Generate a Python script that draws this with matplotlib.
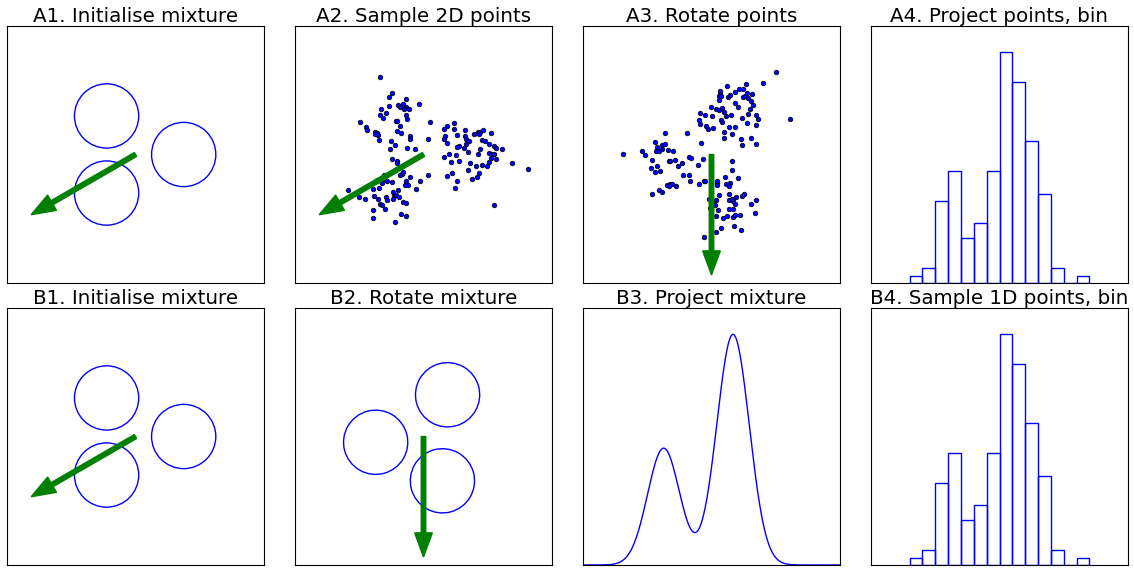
import numpy as np
import matplotlib
matplotlib.use("Agg")
import matplotlib.pyplot as plt
from matplotlib.patches import Circle
from matplotlib.transforms import Affine2D

# mixture of three circles (centres, radius)
circ_x = [-0.9, -0.9, 1.5]
circ_y = [1.2, -1.2, 0.0]
circ_r = 1.0

# projection arrow (degrees) and rotation applied to line it up with -y
arrow_angle = 210.0
rot_angle = 60.0
arrow_len = 3.0

# sampled 2D points (panel A2)
pts_x = [-1.36, -0.99, -1.06, -0.56, -0.63, -0.78, -0.73, -0.53, -0.45, -0.61,
         -1.32, -1.07, -0.15, -1.17, -1.35, -1.25, -0.56, -0.52, -1.99, -1.79,
         -1.77, -0.85, -0.82, -0.72, -1.52, -1.45, -1.42, -1.51, -1.40, -0.82,
         -0.70, -0.43, -0.42, -1.00, -0.89, -1.05, -0.50, -0.26, 0.15, 0.20,
         -0.98, -0.84, -0.81, -0.68, -0.72, -0.63, -1.24, -1.45, -1.46, -1.25,
         -1.15, -0.98, -0.41, -0.10, 0.14, -0.56, -0.48, -0.57, -2.34, -1.57,
         -1.40, -1.29, -0.79, -0.95, -0.23, -2.02, -1.83, -1.53, -1.42, -1.18,
         -1.14, -1.35, -1.28, -0.92, -0.96, -0.87, -0.75, -1.58, -1.20, -0.63,
         -0.55, -0.71, -0.54, -1.58, -0.89,
         0.94, 0.73, 0.64, 0.95, 1.28, 0.68, 0.63, 1.04, 1.29, 1.31,
         1.42, 1.57, 1.69, 1.77, 1.86, 1.74, 2.09, 1.81, 1.91, 0.73,
         1.09, 1.04, 1.33, 1.27, 1.38, 1.76, 1.70, 2.05, 2.21, 2.26,
         2.43, 2.04, 2.09, 2.21, 2.26, 0.80, 1.02, 0.63, 0.86, 1.11,
         1.44, 1.64, 1.83, 1.99, 2.05, 2.10, 0.88, 0.72, 1.05, 0.99,
         1.40, 1.50, 1.67, 1.74, 2.74, 3.24, 2.18]
pts_y = [2.41, 1.91, 1.78, 1.72, 1.58, 1.54, 1.48, 1.48, 1.41, 1.41,
         1.43, 1.51, 1.57, 1.29, 1.24, 1.14, 1.23, 1.09, 1.00, 0.86,
         0.76, 1.05, 1.03, 0.90, 0.71, 0.66, 0.60, 0.64, 0.46, 0.73,
         0.66, 0.57, 0.48, 0.43, 0.29, 0.17, 0.21, 0.17, 0.48, 1.00,
         -0.13, -0.20, -0.25, -0.60, -0.63, -0.56, -0.63, -0.80, -0.84, -0.77,
         -0.81, -0.85, -0.71, -0.81, -0.64, -0.84, -0.96, -0.96, -1.09, -1.08,
         -1.04, -0.88, -1.10, -1.16, -1.07, -1.33, -1.39, -1.30, -1.39, -1.32,
         -1.43, -1.55, -1.57, -1.29, -1.40, -1.25, -1.33, -1.73, -1.71, -1.47,
         -1.50, -1.84, -1.91, -1.98, -2.09,
         0.97, 0.88, 0.79, 0.80, 0.77, 0.59, 0.48, 0.60, 0.58, 0.49,
         0.43, 0.65, 0.69, 0.71, 0.76, 0.65, 0.66, 0.45, 0.42, 0.36,
         0.27, 0.24, 0.32, 0.20, 0.09, 0.17, 0.02, 0.34, 0.27, 0.19,
         0.17, 0.06, 0.01, 0.01, -0.15, 0.02, -0.03, -0.09, -0.24, -0.20,
         -0.25, -0.35, -0.33, -0.36, -0.24, -0.10, -0.57, -0.68, -0.81, -1.04,
         -0.48, -0.75, -0.70, -0.58, -0.28, -0.46, -1.58]

# histogram of projected points (A4 / B4)
bin_edges = [-2.8, -2.4, -2.0, -1.6, -1.2, -0.8, -0.4, 0.0, 0.4, 0.8, 1.2, 1.6, 2.0, 2.4, 2.8]
counts = [1, 2, 11, 15, 6, 8, 15, 31, 27, 19, 12, 2, 0, 1]

# projected mixture components (B3)
proj_means = [-1.49, 0.59, 0.75]
proj_sigma = 0.5

titles = ["A1. Initialise mixture", "A2. Sample 2D points", "A3. Rotate points", "A4. Project points, bin",
          "B1. Initialise mixture", "B2. Rotate mixture", "B3. Project mixture", "B4. Sample 1D points, bin"]

W, H = 1134, 568
fig = plt.figure(figsize=(W / 100, H / 100), dpi=100)
lefts = [7, 295, 583, 871]
tops = [26, 308]
size = 257
axes = []
for r in range(2):
    for c in range(4):
        ax = fig.add_axes([lefts[c] / W, 1 - (tops[r] + size) / H, size / W, size / H])
        ax.set_xticks([])
        ax.set_yticks([])
        ax.set_title(titles[r * 4 + c], fontsize=14.3, pad=2)
        axes.append(ax)

rot = Affine2D().rotate_deg(rot_angle)
arrow_kw = dict(width=0.14, head_width=0.55, head_length=0.75, fc="green", ec="green", zorder=3)
a_dx = arrow_len * np.cos(np.radians(arrow_angle))
a_dy = arrow_len * np.sin(np.radians(arrow_angle))
r_dx = arrow_len * np.cos(np.radians(arrow_angle + rot_angle))
r_dy = arrow_len * np.sin(np.radians(arrow_angle + rot_angle))


def circles(ax, tr=None):
    for cx, cy in zip(circ_x, circ_y):
        c = Circle((cx, cy), circ_r, fill=False, ec="blue", lw=1)
        if tr is not None:
            c.set_transform(tr + ax.transData)
        ax.add_patch(c)


def square(ax):
    ax.set_xlim(-4, 4)
    ax.set_ylim(-4, 4)


# A1, B1
for ax in (axes[0], axes[4]):
    circles(ax)
    ax.arrow(0, 0, a_dx, a_dy, **arrow_kw)
    square(ax)

# A2
axes[1].scatter(pts_x, pts_y, s=11, c="blue", edgecolors="black", linewidths=0.5)
axes[1].arrow(0, 0, a_dx, a_dy, **arrow_kw)
square(axes[1])

# A3
axes[2].scatter(pts_x, pts_y, s=11, c="blue", edgecolors="black", linewidths=0.5,
                transform=rot + axes[2].transData)
axes[2].arrow(0, 0, r_dx, r_dy, **arrow_kw)
square(axes[2])

# B2
circles(axes[5], rot)
axes[5].arrow(0, 0, r_dx, r_dy, **arrow_kw)
square(axes[5])

# B3
xs = np.linspace(-4, 4, 500)
dens = sum(np.exp(-0.5 * ((xs - m) / proj_sigma) ** 2) for m in proj_means)
axes[6].plot(xs, dens, color="blue", lw=1)
axes[6].set_xlim(-4, 4)
axes[6].set_ylim(0, 2.2)

# A4, B4
for ax in (axes[3], axes[7]):
    ax.bar(bin_edges[:-1], counts, width=np.diff(bin_edges), align="edge",
           fill=False, edgecolor="blue", lw=1)
    ax.set_xlim(-4, 4)
    ax.set_ylim(0, 34.5)

fig.savefig("out.png", dpi=100)
